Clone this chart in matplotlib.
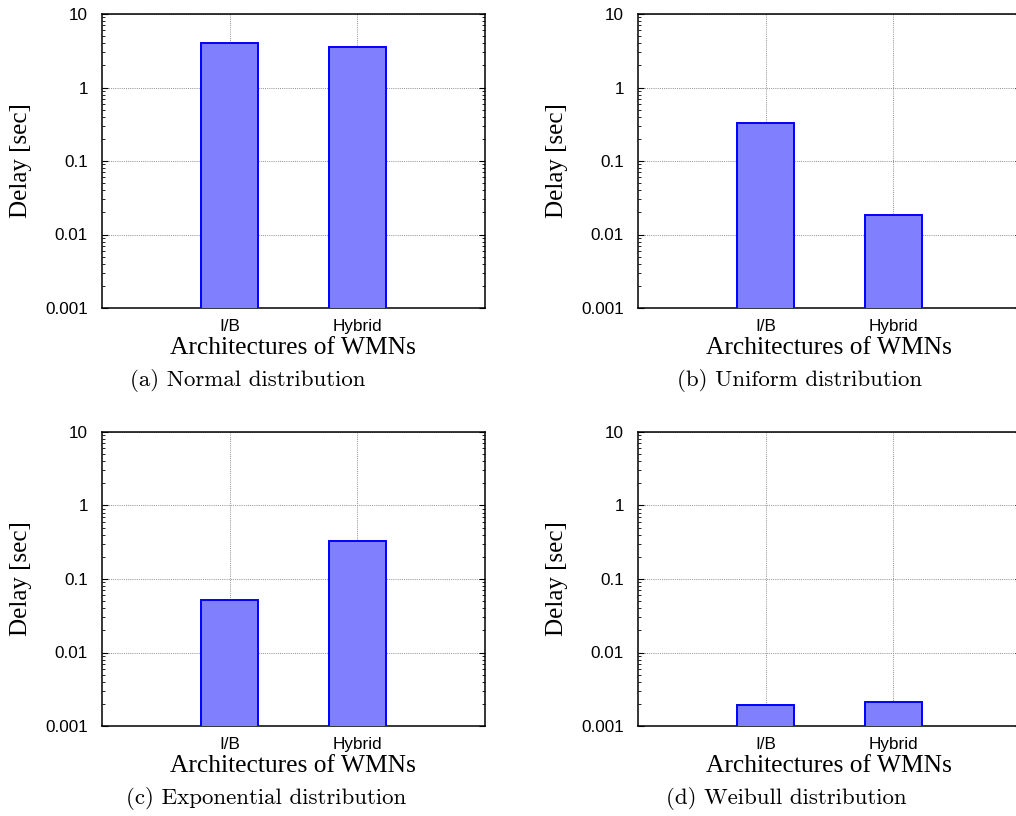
import matplotlib
matplotlib.use('Agg')
import matplotlib.pyplot as plt
from matplotlib.ticker import LogLocator, NullFormatter

# ---------------- data ----------------
categories = ['I/B', 'Hybrid']
normal = [4.05, 3.6]
uniform = [0.325, 0.0183]
exponential = [0.0513, 0.328]
weibull = [0.00193, 0.00212]
series = [normal, uniform, exponential, weibull]
captions = ['(a) Normal distribution', '(b) Uniform distribution',
            '(c) Exponential distribution', '(d) Weibull distribution']
yticks = [0.001, 0.01, 0.1, 1, 10]
ytick_labels = ['0.001', '0.01', '0.1', '1', '10']
xlabel = 'Architectures of WMNs'
ylabel = 'Delay [sec]'

# ---------------- layout (pixels) ----------------
W, H = 1016, 816
fig = plt.figure(figsize=(W / 100, H / 100), dpi=100)

offsets = [(0, 0), (536, 0), (0, 418), (536, 418)]
cap_pos = [(248, 380), (800, 380), (266, 798), (786, 798)]
ax_left, ax_top, ax_w, ax_h = 102, 14, 383, 294

tick_font = 'Liberation Sans'
label_font = 'Liberation Serif'

for i, (vals, (dx, dy)) in enumerate(zip(series, offsets)):
    l = ax_left + dx
    t = ax_top + dy
    ax = fig.add_axes([l / W, 1 - (t + ax_h) / H, ax_w / W, ax_h / H])
    x = list(range(1, len(categories) + 1))
    ax.bar(x, vals, width=0.45, color='#8080ff', edgecolor='#0000ff',
           linewidth=1.4, zorder=3)
    ax.set_yscale('log')
    ax.set_ylim(0.001, 10)
    ax.set_xlim(0, 3)
    ax.set_yticks(yticks)
    ax.set_yticklabels(ytick_labels, fontfamily=tick_font, fontsize=12.3)
    ax.yaxis.set_minor_locator(LogLocator(base=10, subs=range(2, 10)))
    ax.yaxis.set_minor_formatter(NullFormatter())
    ax.set_xticks(x)
    ax.set_xticklabels(categories, fontfamily=tick_font, fontsize=12.3)
    ax.tick_params(axis='y', which='major', direction='in', length=4,
                   width=0.8, left=True, right=True, pad=10)
    ax.tick_params(axis='y', which='minor', direction='in', length=2,
                   width=0.6, left=True, right=True)
    ax.tick_params(axis='x', which='major', direction='in', length=0,
                   pad=8)
    ax.grid(True, which='major', linestyle=(0, (1, 1.2)), color='#909090',
            linewidth=0.7, zorder=0)
    for s in ax.spines.values():
        s.set_linewidth(1.1)
        s.set_color('black')
    ax.set_axisbelow(True)

    # axis labels
    fig.text((21 + dx) / W, 1 - (161 + dy) / H, ylabel, rotation=90,
             ha='center', va='center', fontfamily=label_font, fontsize=18)
    fig.text((293 + dx) / W, 1 - (348 + dy) / H, xlabel,
             ha='center', va='center', fontfamily=label_font, fontsize=18.4)
    cx, cy = cap_pos[i]
    fig.text(cx / W, 1 - cy / H, captions[i], ha='center', va='center',
             fontfamily='cmr10', fontsize=16.5)

fig.savefig('out.png', dpi=100)
